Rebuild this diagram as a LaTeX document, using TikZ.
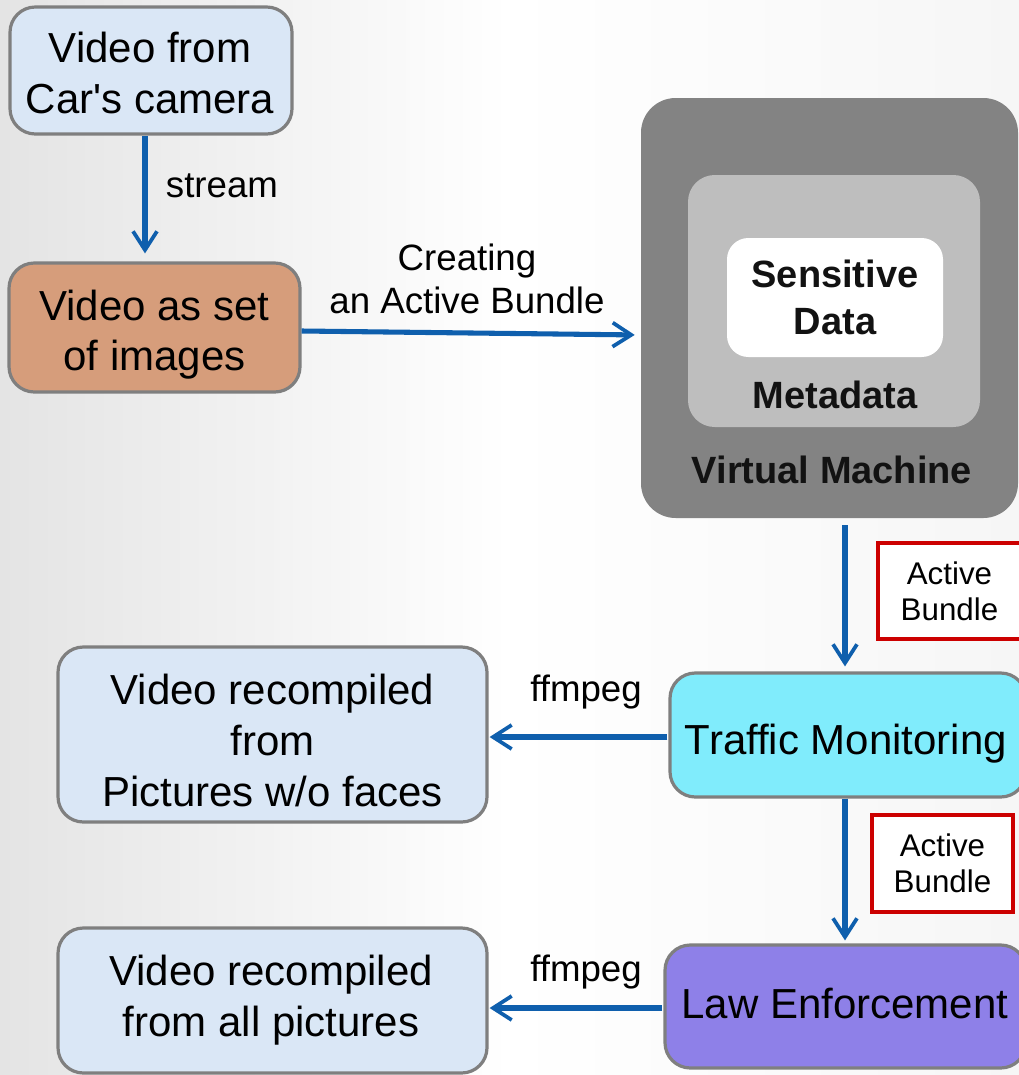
\documentclass[tikz,border=0pt]{standalone}
\usepackage{fontspec}
\setmainfont{Liberation Sans}
\usetikzlibrary{arrows.meta,calc}
\definecolor{arrblue}{HTML}{0F5FAD}
\definecolor{boxgray}{HTML}{7F7F7F}
\definecolor{lblue}{HTML}{DAE7F6}
\definecolor{tan}{HTML}{D69D7B}
\definecolor{tmcyan}{HTML}{80ECFC}
\definecolor{lepurple}{HTML}{8E80E8}
\definecolor{vmdark}{HTML}{838383}
\definecolor{vmmid}{HTML}{BEBEBE}
\definecolor{abred}{HTML}{CC0000}
\definecolor{bgl}{HTML}{E4E4E4}
\definecolor{bgr}{HTML}{F6F6F6}
\definecolor{vmtext}{HTML}{121212}
\newcommand{\fMain}{\fontsize{31.5}{38}\selectfont}
\newcommand{\fLabel}{\fontsize{27.5}{32}\selectfont}
\newcommand{\fRed}{\fontsize{23.5}{27}\selectfont}
\newcommand{\fVM}{\fontsize{28.5}{35}\selectfont\bfseries}
\begin{document}
\begin{tikzpicture}[x=0.75pt,y=-0.75pt,
  box/.style={draw=boxgray, line width=2.4pt, rounded corners=19pt, inner sep=0pt},
  txt/.style={inner sep=0pt, align=center, font=\fMain},
  lbl/.style={inner sep=0pt, align=center, font=\fLabel},
  redbox/.style={draw=abred, line width=3pt, fill=white, align=center, inner sep=0pt, font=\fRed},
  vmtxt/.style={inner sep=0pt, align=center, text=vmtext, font=\fVM},
  arr/.style={draw=arrblue, line width=3.8pt, -{Straight Barb[length=14pt,width=18pt,line width=2.8pt]}}]
\shade[left color=bgl, right color=bgr, middle color=white] (0,0) rectangle (1019,1075);
\useasboundingbox (0,0) rectangle (1019,1075);
% boxes
\node[box, fill=lblue, minimum width=282*0.75pt, minimum height=127*0.75pt] (cam) at (151,70.5) {};
\node[box, fill=tan, minimum width=291*0.75pt, minimum height=129*0.75pt] (imgs) at (154.5,327.5) {};
\node[fill=vmdark, rounded corners=26pt, inner sep=0pt, minimum width=377*0.75pt, minimum height=420*0.75pt] (vm) at (829.5,308) {};
\node[fill=vmmid, rounded corners=20pt, inner sep=0pt, minimum width=292*0.75pt, minimum height=252*0.75pt] (meta) at (834,301) {};
\node[fill=white, rounded corners=16pt, vmtxt, minimum width=216*0.75pt, minimum height=119*0.75pt] (sens) at (835,297.5) {Sensitive\\Data};
\node[box, fill=tmcyan, minimum width=356*0.75pt, minimum height=124*0.75pt] (tm) at (848,735) {};
\node[box, fill=lepurple, minimum width=361*0.75pt, minimum height=123*0.75pt] (le) at (845.5,1006.5) {};
\node[box, fill=lblue, minimum width=429*0.75pt, minimum height=175*0.75pt] (rc1) at (272.5,734.5) {};
\node[box, fill=lblue, minimum width=429*0.75pt, minimum height=145*0.75pt] (rc2) at (272.5,1000.5) {};
\node[redbox, minimum width=143*0.75pt, minimum height=96*0.75pt] (ab1) at (949.5,591) {Active\\Bundle};
\node[redbox, minimum width=141*0.75pt, minimum height=97*0.75pt] (ab2) at (942.5,863.5) {Active\\Bundle};
% box texts
\node[txt] (camT) at (150,73) {Video from\\Car\textquotesingle s camera};
\node[txt] (imgsT) at (154.5,334.5) {Video as set\\of images};
\node[txt] (tmT) at (846,744) {Traffic Monitoring};
\node[txt] (leT) at (845,1003.5) {Law Enforcement};
\node[txt] (rc1T) at (272.5,740.5) {Video recompiled\\from\\Pictures w/o faces};
\node[txt] (rc2T) at (271,1000) {Video recompiled\\from all pictures};
\node[vmtxt] (metalbl) at (835,395) {Metadata};
\node[vmtxt] (vmlbl) at (832,470) {Virtual Machine};
% labels
\node[lbl] (lstream) at (222,186) {stream};
\node[lbl] (lcreate) at (467,279) {Creating\\an Active Bundle};
\node[lbl] (lff1) at (586,692) {ffmpeg};
\node[lbl] (lff2) at (586,972) {ffmpeg};
% helper coordinates
\coordinate (stx) at (145,0);
\coordinate (colx) at (845,0);
\coordinate (cy1) at (0,331);
\coordinate (cy2) at (0,335);
\coordinate (fy1) at (0,737);
\coordinate (fy2) at (0,1008);
% connectors
\draw[arr, shorten >=8*0.75pt] (cam.south -| stx) -- (imgs.north -| stx);
\draw[arr, shorten >=6*0.75pt] (imgs.east |- cy1) -- (vm.west |- cy2);
\draw[arr, shorten <=7*0.75pt, shorten >=5*0.75pt] (vm.south -| colx) -- (tm.north -| colx);
\draw[arr, shorten >=3*0.75pt] (tm.south -| colx) -- (le.north -| colx);
\draw[arr, shorten <=1*0.75pt, shorten >=1*0.75pt] (tm.west |- fy1) -- (rc1.east |- fy1);
\draw[arr, shorten <=1*0.75pt, shorten >=1*0.75pt] (le.west |- fy2) -- (rc2.east |- fy2);
\end{tikzpicture}
\end{document}
